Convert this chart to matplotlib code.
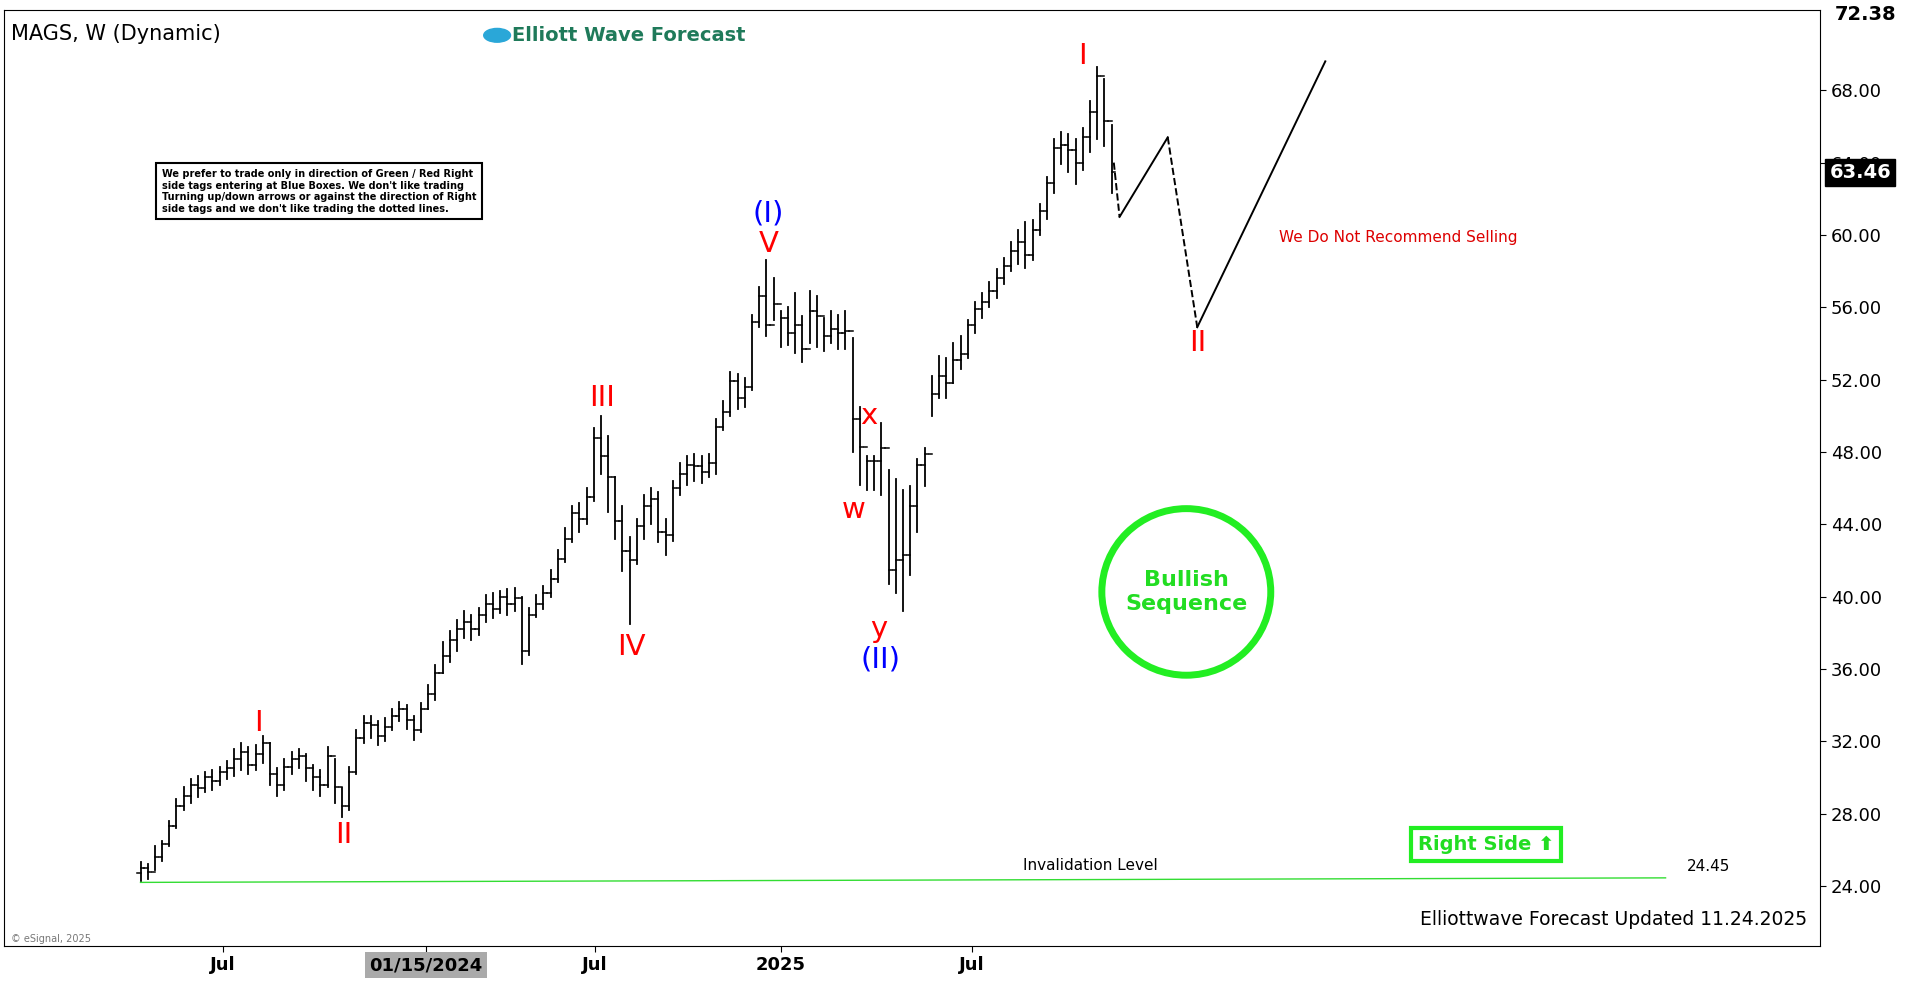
import matplotlib
matplotlib.use("Agg")
import matplotlib.pyplot as plt
import matplotlib.patches as mpatches

# weekly bars, index 0 = late May 2023
highs = [25.3, 25.2, 26.2, 26.5, 27.6, 28.8, 29.5, 29.9, 30.1, 30.3, 30.4, 30.6, 30.9, 31.6, 31.9, 31.7, 31.8, 32.3, 31.9, 30.5,
         31.0, 31.4, 31.6, 31.3, 30.7, 30.4, 31.7, 31.0, 29.4, 30.6, 32.6, 33.4, 33.4, 33.1, 33.3, 33.8, 34.2, 34.0, 33.4, 34.1,
         35.1, 36.2, 37.5, 38.1, 38.7, 39.2, 39.0, 39.4, 40.1, 40.2, 40.3, 40.4, 40.5, 40.0, 39.4, 40.1, 40.6, 41.5, 42.6, 43.8,
         45.0, 45.2, 46.0, 49.3, 50.0, 48.9, 46.6, 45.0, 43.3, 44.3, 45.6, 46.0, 45.8, 44.3, 46.4, 47.4, 47.8, 47.9, 47.8, 47.9,
         49.8, 50.8, 52.4, 52.3, 52.1, 55.6, 57.1, 58.6, 57.6, 55.8, 56.0, 56.8, 55.5, 56.9, 56.6, 55.4, 55.8, 55.6, 55.8, 54.3,
         50.5, 47.8, 47.8, 49.6, 47.0, 46.5, 45.9, 46.1, 47.6, 48.2, 52.2, 53.3, 53.2, 54.0, 54.4, 55.3, 56.3, 56.8, 57.4, 58.1,
         58.7, 59.6, 60.3, 60.7, 60.8, 61.7, 63.2, 65.3, 65.7, 65.6, 65.3, 65.9, 67.4, 69.3, 68.6, 66.1]
lows = [24.3, 24.4, 24.9, 25.4, 26.2, 27.2, 28.2, 28.6, 28.9, 29.2, 29.3, 29.6, 29.9, 30.1, 30.4, 30.2, 30.4, 30.8, 29.6, 29.0,
        29.3, 30.2, 30.5, 29.8, 29.3, 29.0, 29.5, 28.6, 27.8, 28.2, 30.2, 31.9, 32.2, 31.8, 32.0, 32.6, 33.1, 32.7, 32.1, 32.5,
        33.8, 34.3, 35.8, 36.4, 37.0, 37.7, 37.6, 37.9, 38.6, 38.8, 39.1, 39.0, 39.2, 36.3, 36.8, 38.9, 39.3, 40.0, 40.8, 41.9,
        43.0, 43.6, 44.0, 45.3, 46.8, 44.7, 43.2, 41.4, 38.5, 41.8, 43.2, 44.0, 43.0, 42.3, 43.1, 45.6, 46.2, 46.4, 46.3, 46.6,
        46.8, 49.2, 50.0, 50.4, 50.5, 51.4, 54.9, 54.4, 55.3, 53.8, 53.9, 53.5, 53.0, 54.0, 53.8, 53.6, 54.0, 53.7, 53.7, 48.0,
        46.2, 45.9, 45.9, 45.6, 40.7, 40.2, 39.2, 41.2, 43.6, 46.1, 50.0, 51.0, 51.0, 51.8, 52.6, 53.2, 54.6, 55.4, 56.0, 56.5,
        57.3, 58.0, 58.4, 58.2, 58.6, 60.0, 60.9, 62.3, 63.9, 63.5, 62.8, 63.6, 64.6, 65.3, 64.9, 62.3]
closes = [25.0, 24.8, 25.6, 26.3, 27.3, 28.4, 29.0, 29.6, 29.4, 30.0, 29.8, 30.3, 30.5, 31.0, 31.4, 30.7, 31.3, 31.9, 30.2, 29.6,
          30.6, 31.0, 31.2, 30.5, 30.0, 29.6, 31.2, 29.5, 28.4, 30.3, 32.2, 33.0, 32.9, 32.3, 32.8, 33.4, 33.8, 33.2, 32.6, 33.8,
          34.6, 35.8, 36.7, 37.6, 38.2, 38.6, 38.2, 39.0, 39.6, 39.3, 40.0, 39.6, 39.9, 37.0, 39.0, 39.6, 40.2, 41.0, 42.1, 43.2,
          44.6, 44.3, 45.5, 48.8, 47.8, 46.6, 44.2, 42.5, 42.0, 43.9, 45.0, 45.4, 43.6, 43.4, 46.0, 46.8, 47.3, 47.2, 46.9, 47.4,
          49.4, 50.2, 51.9, 51.0, 51.6, 55.2, 56.6, 55.0, 56.2, 55.4, 54.6, 55.0, 53.7, 55.8, 55.5, 54.4, 54.8, 54.6, 54.7, 49.8,
          48.3, 47.5, 47.5, 48.2, 41.5, 42.0, 42.3, 45.0, 47.3, 47.9, 51.2, 52.2, 51.8, 53.1, 53.4, 55.0, 55.9, 56.3, 56.9, 57.6,
          58.3, 59.1, 59.6, 58.9, 60.3, 61.3, 62.9, 64.8, 65.0, 64.7, 64.0, 65.4, 66.8, 68.8, 66.3, 63.46]

# projected path (week index, price) and line style of each leg
path_x = [135.3, 136.1, 142.8, 146.9, 164.7]
path_y = [64.0, 61.0, 65.4, 54.9, 69.6]
path_style = ["--", "-", "--", "-"]

tick_pos = [11.5, 39.7, 63.2, 89.0, 115.6]
tick_lbl = ["Jul", "01/15/2024", "Jul", "2025", "Jul"]
price_ticks = [24, 28, 32, 36, 40, 44, 48, 52, 56, 60, 64, 68]

waves = [("I", 16.4, 33.0, "red"), ("II", 28.2, 26.8, "red"), ("III", 64.2, 51.0, "red"),
         ("IV", 68.3, 37.2, "red"), ("V", 87.3, 59.5, "red"), ("(I)", 87.3, 61.2, "blue"),
         ("w", 99.1, 44.8, "red"), ("x", 101.2, 50.0, "red"), ("y", 102.6, 38.2, "red"),
         ("(II)", 102.9, 36.5, "blue"), ("I", 131.0, 69.9, "red"), ("II", 147.0, 54.0, "red")]

fig = plt.figure(figsize=(19.12, 9.81), dpi=100)
ax = fig.add_axes([0.002, 0.036, 0.950, 0.954])
ax.set_xlim(-19, 233.5)
ax.set_ylim(20.7, 72.45)

for i, (h, l, c) in enumerate(zip(highs, lows, closes)):
    o = closes[i - 1] if i > 0 else l + 0.4
    ax.plot([i, i], [l, h], color="black", lw=1.3)
    ax.plot([i - 0.45, i], [o, o], color="black", lw=1.1)
    ax.plot([i, i + 0.45], [c, c], color="black", lw=1.1)

for k, ls in enumerate(path_style):
    ax.plot(path_x[k:k + 2], path_y[k:k + 2], color="black", lw=1.4, ls=ls)

for txt, x, y, col in waves:
    ax.text(x, y, txt, color=col, fontsize=21, ha="center", va="center")

# invalidation level
ax.plot([0, 212], [24.2, 24.45], color="#33dd33", lw=1)
ax.text(132, 24.9, "Invalidation Level", fontsize=11, ha="center")
ax.text(215, 24.85, "24.45", fontsize=11, ha="left")

ax.yaxis.tick_right()
ax.set_yticks(price_ticks)
ax.set_yticklabels([f"{p:.2f}" for p in price_ticks], fontsize=13)
ax.set_xticks(tick_pos)
ax.set_xticklabels(tick_lbl, fontsize=13, fontweight="bold")
ax.tick_params(axis="both", length=4)
ax.get_xticklabels()[1].set_bbox(dict(facecolor="#aaaaaa", edgecolor="none", pad=3))

# right side price tags
ax.text(1.005, 63.46, "63.46", transform=ax.get_yaxis_transform(), fontsize=14, fontweight="bold",
        color="white", va="center", zorder=5, bbox=dict(facecolor="black", edgecolor="black", pad=3))
ax.text(1.008, 72.2, "72.38", transform=ax.get_yaxis_transform(), fontsize=14, fontweight="bold",
        va="center")

ax.text(0.004, 0.985, "MAGS, W (Dynamic)", transform=ax.transAxes, fontsize=15, va="top")
fig.text(0.268, 0.964, "Elliott Wave Forecast", fontsize=14, fontweight="bold", color="#1f7a5a",
         va="center")
fig.add_artist(mpatches.Circle((0.260, 0.964), 0.007, transform=fig.transFigure, color="#2aa7d8"))

ax.text(0.087, 0.83, "We prefer to trade only in direction of Green / Red Right\nside tags entering at Blue Boxes. We don't like trading\n"
        "Turning up/down arrows or against the direction of Right\nside tags and we don't like trading the dotted lines.",
        transform=ax.transAxes, fontsize=7, fontweight="bold", va="top",
        bbox=dict(facecolor="white", edgecolor="black", lw=1.5, pad=4))

ax.text(0.702, 0.752, "We Do Not Recommend Selling", transform=ax.transAxes, color="#dd0000", fontsize=11)

circ = mpatches.Ellipse((0.651, 0.378), 0.093, 0.178, transform=ax.transAxes, fill=False,
                        edgecolor="#22ee22", lw=5)
ax.add_patch(circ)
ax.text(0.651, 0.378, "Bullish\nSequence", transform=ax.transAxes, color="#22dd22", fontsize=16,
        fontweight="bold", ha="center", va="center")

ax.text(0.816, 0.108, "Right Side \u2b06", transform=ax.transAxes, color="#22dd22", fontsize=14,
        fontweight="bold", ha="center", va="center",
        bbox=dict(facecolor="white", edgecolor="#22ee22", lw=3, pad=5))

ax.text(0.993, 0.018, "Elliottwave Forecast Updated 11.24.2025", transform=ax.transAxes,
        fontsize=13.5, ha="right", va="bottom")
ax.text(0.004, 0.004, "\u00a9 eSignal, 2025", transform=ax.transAxes, fontsize=7, color="#777777")

fig.savefig("out.png", dpi=100)
